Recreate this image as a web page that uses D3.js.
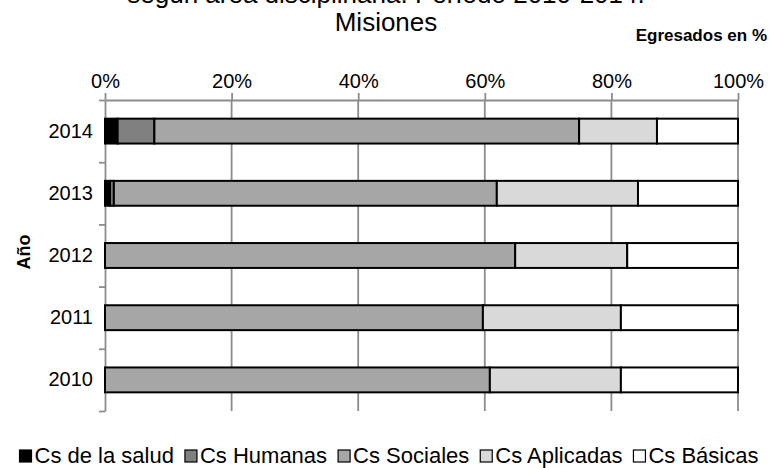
<!DOCTYPE html>
<html><head><meta charset="utf-8">
<script src="https://cdn.jsdelivr.net/npm/d3@7"></script>
<style>html,body{margin:0;padding:0;background:#fff}svg{display:block}text{font-family:"Liberation Sans",Arial,sans-serif}</style>
</head><body>
<script>
const years = ["2014","2013","2012","2011","2010"];
const seriesNames = ["Cs de la salud","Cs Humanas","Cs Sociales","Cs Aplicadas","Cs Básicas"];
const salud     = [2.0, 0.8, 0, 0, 0];
const humanas   = [5.8, 0.6, 0, 0, 0];
const sociales  = [67.1, 60.5, 64.8, 59.7, 60.8];
const aplicadas = [12.3, 22.3, 17.7, 21.8, 20.7];
const basicas   = [12.8, 15.8, 17.5, 18.5, 18.5];
const xTicks = [0, 20, 40, 60, 80, 100];
const colors = ["#000000","#808080","#a6a6a6","#d9d9d9","#ffffff"];
const titleLine1 = "según área disciplinaria. Período 2010-2014.";
const titleLine2 = "Misiones";

const W = 770, H = 468;
const svg = d3.select("body").append("svg").attr("width", W).attr("height", H);

const x = d3.scaleLinear().domain([0, 100]).range([105, 738]);
const y = d3.scaleBand().domain(years).range([100, 411]).paddingInner(0.6).paddingOuter(0.3);
const yEdge = d3.scaleLinear().domain([0, years.length]).range([100, 411]);

const seriesVals = [salud, humanas, sociales, aplicadas, basicas];
const rows = years.map((yr, i) => {
  const o = {year: yr};
  seriesNames.forEach((s, k) => o[s] = seriesVals[k][i]);
  return o;
});
const stacked = d3.stack().keys(seriesNames)(rows);

const gridColor = "#8c8c8c";
const ff = '"Liberation Sans",Arial,sans-serif';

// grid lines
svg.append("g").selectAll("line").data(xTicks.filter(d => d > 0)).join("line")
  .attr("x1", d => x(d)).attr("x2", d => x(d))
  .attr("y1", 100).attr("y2", 411)
  .attr("stroke", gridColor).attr("stroke-width", 1.8);

// top axis
const gx = svg.append("g").attr("transform", "translate(0,100)")
  .call(d3.axisTop(x).tickValues(xTicks).tickFormat(d => d + "%").tickSize(7).tickSizeOuter(0));
gx.select(".domain").attr("stroke", gridColor).attr("stroke-width", 1.8);
gx.selectAll(".tick line").attr("stroke", gridColor).attr("stroke-width", 1.8);
gx.selectAll(".tick text").attr("font-size", 20).attr("fill", "#000").attr("dy", "-0.1em")
  .style("font-family", ff);

// left axis ticks at band edges
const gy = svg.append("g").attr("transform", "translate(105,0)")
  .call(d3.axisLeft(yEdge).tickValues(d3.range(0, years.length + 1)).tickFormat("").tickSize(6).tickSizeOuter(0));
gy.select(".domain").attr("stroke", gridColor).attr("stroke-width", 1.8);
gy.selectAll(".tick line").attr("stroke", gridColor).attr("stroke-width", 1.8);

// year labels
const gyl = svg.append("g").attr("transform", "translate(105,0)")
  .call(d3.axisLeft(y).tickSize(0).tickPadding(12));
gyl.select(".domain").remove();
gyl.selectAll(".tick text").attr("font-size", 20).attr("fill", "#000")
  .style("font-family", ff);

// bars
svg.append("g").selectAll("g").data(stacked).join("g")
  .attr("fill", (d, i) => colors[i])
  .selectAll("rect").data(d => d.filter(v => v[1] - v[0] > 0)).join("rect")
  .attr("x", d => x(d[0])).attr("width", d => x(d[1]) - x(d[0]))
  .attr("y", d => y(d.data.year)).attr("height", y.bandwidth())
  .attr("stroke", "#000").attr("stroke-width", 2);

// titles
svg.append("text").attr("x", 386).attr("y", 3).attr("text-anchor", "middle")
  .attr("font-size", 26).text(titleLine1);
svg.append("text").attr("x", 386).attr("y", 31).attr("text-anchor", "middle")
  .attr("font-size", 26).text(titleLine2);
svg.append("text").attr("x", 767).attr("y", 41).attr("text-anchor", "end")
  .attr("font-size", 17).attr("font-weight", "bold").text("Egresados en %");
svg.append("text").attr("transform", "translate(30,252) rotate(-90)").attr("text-anchor", "middle")
  .attr("font-size", 18).attr("font-weight", "bold").text("Año");

// legend
const lg = svg.append("g");
const items = lg.selectAll("g").data(seriesNames).join("g");
items.append("rect").attr("width", 12).attr("height", 12).attr("y", -13)
  .attr("fill", (d, i) => colors[i]).attr("stroke", "#000").attr("stroke-width", 1.2);
items.append("text").attr("x", 15).attr("y", 0).attr("font-size", 22).text(d => d);
const gap = 11;
let cx = 0;
items.each(function () {
  const g = d3.select(this);
  const w = 15 + g.select("text").node().getComputedTextLength();
  g.attr("transform", `translate(${cx},0)`);
  cx += w + gap;
});
const totalW = cx - gap;
lg.attr("transform", `translate(${(W - totalW) / 2 + 4},463)`);
</script>
</body></html>
